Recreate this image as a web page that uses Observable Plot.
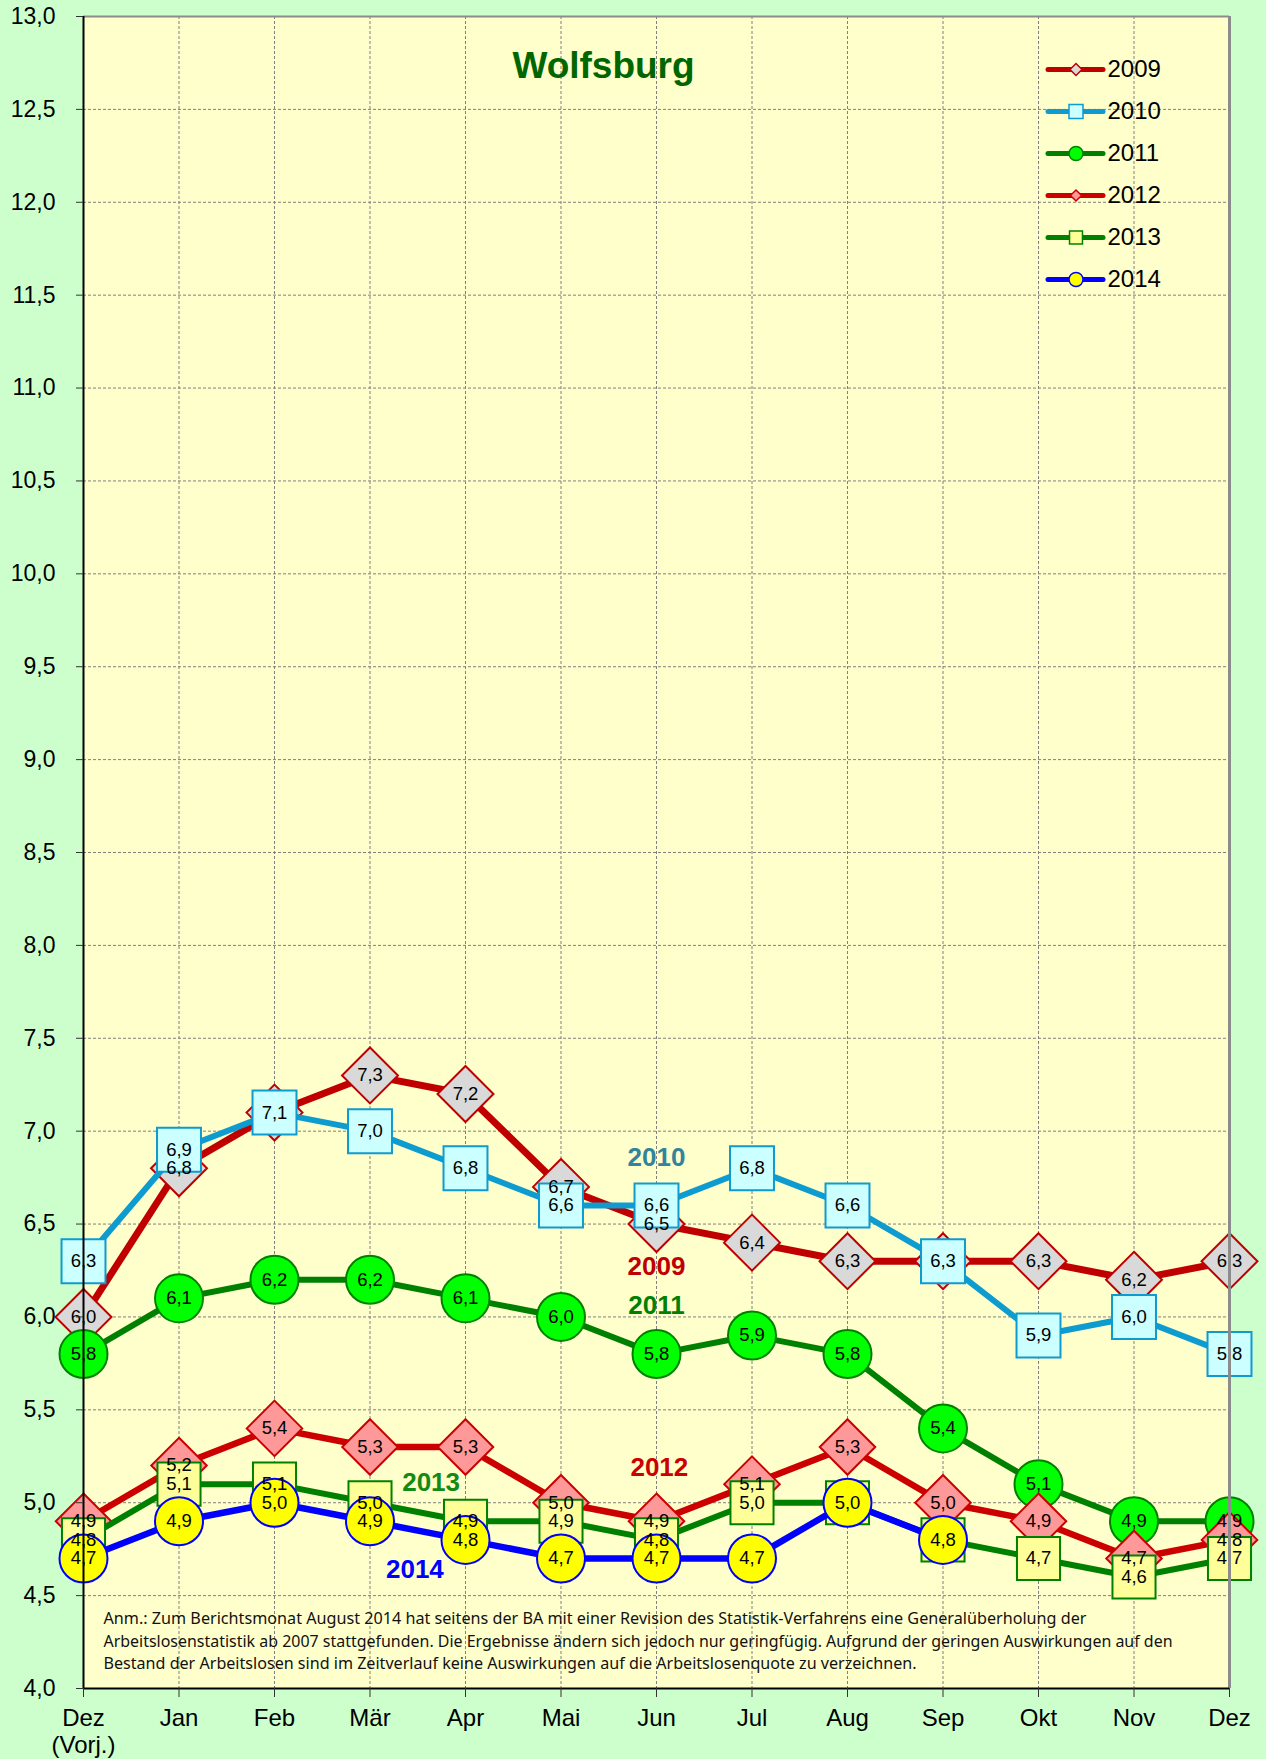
<!DOCTYPE html>
<html><head><meta charset="utf-8">
<script src="https://cdn.jsdelivr.net/npm/d3@7"></script>
<script src="https://cdn.jsdelivr.net/npm/@observablehq/plot@0.6"></script>
<style>
html,body{margin:0;padding:0;background:#CCFFCC;}
#wrap{position:relative;width:1266px;height:1759px;}
#legend{position:absolute;left:1040px;top:45px;}
</style></head><body><div id="wrap"><div id="chart"></div><div id="legend"></div></div>
<script>
const months = ["Dez\n(Vorj.)","Jan","Feb","Mär","Apr","Mai","Jun","Jul","Aug","Sep","Okt","Nov","Dez"];
const years = ["2009","2010","2011","2012","2013","2014"];
const v2009 = [6.0,6.8,7.1,7.3,7.2,6.7,6.5,6.4,6.3,6.3,6.3,6.2,6.3];
const v2010 = [6.3,6.9,7.1,7.0,6.8,6.6,6.6,6.8,6.6,6.3,5.9,6.0,5.8];
const v2011 = [5.8,6.1,6.2,6.2,6.1,6.0,5.8,5.9,5.8,5.4,5.1,4.9,4.9];
const v2012 = [4.9,5.2,5.4,5.3,5.3,5.0,4.9,5.1,5.3,5.0,4.9,4.7,4.8];
const v2013 = [4.8,5.1,5.1,5.0,4.9,4.9,4.8,5.0,5.0,4.8,4.7,4.6,4.7];
const v2014 = [4.7,4.9,5.0,4.9,4.8,4.7,4.7,4.7,5.0,4.8];
const yTicks = [4.0,4.5,5.0,5.5,6.0,6.5,7.0,7.5,8.0,8.5,9.0,9.5,10.0,10.5,11.0,11.5,12.0,12.5,13.0];
const title = "Wolfsburg";
const annotations = [
  {text:"2010", x:6, y:6.86},
  {text:"2009", x:6, y:6.27},
  {text:"2011", x:6, y:6.06},
  {text:"2012", x:6.03, y:5.19},
  {text:"2013", x:3.64, y:5.11},
  {text:"2014", x:3.47, y:4.64}
];
const noteLines = [
  "Anm.: Zum Berichtsmonat August 2014 hat seitens der BA mit einer Revision des Statistik-Verfahrens eine Generalüberholung der",
  "Arbeitslosenstatistik ab 2007 stattgefunden. Die Ergebnisse ändern sich jedoch nur geringfügig. Aufgrund der geringen Auswirkungen auf den",
  "Bestand der Arbeitslosen sind im Zeitverlauf keine Auswirkungen auf die Arbeitslosenquote zu verzeichnen."
];

// styles (kept separate from data)
const seriesValues = {"2009":v2009,"2010":v2010,"2011":v2011,"2012":v2012,"2013":v2013,"2014":v2014};
const style = {
  "2009":{line:"#C00000", fill:"#D9D9D9", stroke:"#C00000", symbol:"diamond2", r:25.2, lw:7,   lr:5.4},
  "2010":{line:"#0E9BD0", fill:"#CCFFFF", stroke:"#0E9BD0", symbol:"square",   r:24.8, lw:6,   lr:7.9},
  "2011":{line:"#008000", fill:"#00FF00", stroke:"#008000", symbol:"circle",   r:24,   lw:6,   lr:7},
  "2012":{line:"#CC0000", fill:"#FF9999", stroke:"#CC0000", symbol:"diamond2", r:25,   lw:6.5, lr:5},
  "2013":{line:"#008000", fill:"#FFFF99", stroke:"#008000", symbol:"square",   r:24.3, lw:6,   lr:7.3},
  "2014":{line:"#0000FF", fill:"#FFFF00", stroke:"#0000FF", symbol:"circle",   r:24,   lw:6.5, lr:7}
};
const annColor = {"2010":"#31849B","2009":"#C00000","2011":"#008000","2012":"#CC0000","2013":"#138A13","2014":"#0000FF"};
const noteDy = [-65,-42,-20];
const noteWidths = [983,1069,813];
const font = "'Liberation Sans', Arial, sans-serif";

const fmt = v => v.toFixed(1).replace(".", ",");
const idx = months.map((m,i)=>i);
const rows = years.flatMap(y => seriesValues[y].map((v,i)=>({year:y, i, v})));
// one label per distinct position (coincident labels would otherwise look bold)
const labelRows = rows.filter((r,k) => rows.findIndex(q => q.i === r.i && q.v === r.v) === k);

const marks = [
  Plot.frame({fill:"#FFFFCC", stroke:null}),
  Plot.gridY(yTicks, {stroke:"#808080", strokeOpacity:1, strokeDasharray:"3,2", strokeWidth:1}),
  Plot.gridX(idx, {stroke:"#808080", strokeOpacity:1, strokeDasharray:"3,2", strokeWidth:1}),
  ...noteLines.map((t,k)=>Plot.text([t], {frameAnchor:"bottom-left", textAnchor:"start", lineAnchor:"bottom",
      dx:20, dy:noteDy[k], fontSize:17, fontFamily:"'Liberation Sans Narrow', 'Noto Sans', sans-serif", fill:"#111"})),
  Plot.text([title], {frameAnchor:"top", lineAnchor:"top", dx:-53, dy:35, fontSize:37, fontWeight:"bold", fill:"#006600", fontFamily:font}),
  ...years.flatMap(y => {
    const s = style[y];
    const d = rows.filter(r => r.year === y);
    return [
      Plot.line(d, {x:"i", y:"v", stroke:s.line, strokeWidth:s.lw, strokeLinejoin:"round", strokeLinecap:"round"}),
      Plot.dot(d, {x:"i", y:"v", symbol:s.symbol, r:s.r, fill:s.fill, stroke:s.stroke, strokeWidth:2, fillOpacity:1})
    ];
  }),
  Plot.text(labelRows, {x:"i", y:"v", text:d=>fmt(d.v), fontSize:18.5, fill:"#000", fontFamily:font}),
  ...annotations.map(a => Plot.text([a], {x:"x", y:"y", text:"text", fill:annColor[a.text], fontSize:26, fontWeight:"bold", fontFamily:font})),
  Plot.ruleY([13], {stroke:"#8c8c8c", strokeWidth:2}),
  Plot.ruleX([12], {stroke:"#8c8c8c", strokeWidth:3}),
  Plot.ruleX([0], {stroke:"#000", strokeWidth:2}),
  Plot.ruleY([4], {stroke:"#000", strokeWidth:2}),
  Plot.axisY(yTicks, {tickFormat:fmt, fontSize:23, tickSize:7, tickPadding:21, stroke:"#333", fill:"#000", fontFamily:font}),
  Plot.axisX(idx, {tickFormat:i=>months[i], fontSize:24, tickSize:9, tickPadding:10, lineHeight:1.1, stroke:"#333", fill:"#000", fontFamily:font})
];

const chart = Plot.plot({
  width:1266, height:1759,
  marginLeft:83, marginRight:37, marginTop:16, marginBottom:71,
  style:{background:"transparent", fontFamily:font, overflow:"visible"},
  x:{type:"linear", domain:[0,12], axis:null},
  y:{type:"linear", domain:[4,13], axis:null},
  marks
});
d3.select(chart).selectAll("text").filter(function(){ return noteLines.includes(this.textContent); })
  .each(function(){ const k = noteLines.indexOf(this.textContent);
    this.setAttribute("textLength", noteWidths[k]); this.setAttribute("lengthAdjust","spacingAndGlyphs"); });
document.getElementById("chart").appendChild(chart);

const legend = Plot.plot({
  width:200, height:260, margin:0,
  style:{background:"transparent", fontFamily:font, overflow:"visible"},
  x:{type:"linear", domain:[0,1], range:[8,63], axis:null},
  y:{type:"point", domain:years, range:[22,235], padding:0, axis:null},
  marks:[
    ...years.flatMap(y => {
      const s = style[y];
      return [
        Plot.ruleY([y], {y:d=>d, x1:0, x2:1, stroke:s.line, strokeWidth:5, strokeLinecap:"round"}),
        Plot.dot([y], {x:0.5, y:d=>d, symbol:s.symbol, r:s.lr, fill:s.fill, stroke:s.stroke, strokeWidth:1.5}),
        Plot.text([y], {x:1, y:d=>d, text:d=>d, dx:4, textAnchor:"start", fontSize:24, fill:"#000", fontFamily:font})
      ];
    })
  ]
});
document.getElementById("legend").appendChild(legend);
</script></body></html>
